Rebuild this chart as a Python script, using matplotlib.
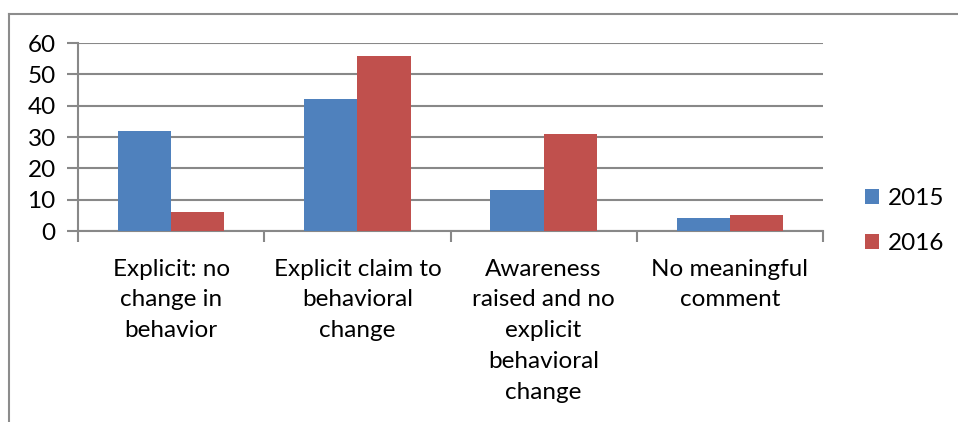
import matplotlib.pyplot as plt
import numpy as np
from matplotlib.lines import Line2D

# data
categories = ['Explicit: no\nchange in\nbehavior',
              'Explicit claim to\nbehavioral\nchange',
              'Awareness\nraised and no\nexplicit\nbehavioral\nchange',
              'No meaningful\ncomment']
years = ['2015', '2016']
vals_2015 = [32, 42, 13, 4]
vals_2016 = [6, 56, 31, 5]
colors = ['#4F81BD', '#C0504D']
grid_col = '#888888'
fs = 17.5

plt.rcParams['font.family'] = ['Lato', 'DejaVu Sans']

fig = plt.figure(figsize=(9.58, 4.22), dpi=100)
ax = fig.add_axes([78/958, 1 - 231/422, 745/958, 188/422])

x = np.arange(len(categories))
w = 1 / 3.5
ax.bar(x - w/2, vals_2015, w, color=colors[0], label=years[0], zorder=3)
ax.bar(x + w/2, vals_2016, w, color=colors[1], label=years[1], zorder=3)

ax.set_xlim(-0.5, len(categories) - 0.5)
ax.set_ylim(0, 60)
ax.set_yticks(range(0, 61, 10))
ax.yaxis.grid(True, color=grid_col, linewidth=1.5, zorder=0)

# tick marks at category boundaries, labels in the middle
ax.set_xticks(np.arange(-0.5, len(categories)), minor=False)
ax.set_xticklabels([''] * (len(categories) + 1))
ax.set_xticks(x, minor=True)
ax.set_xticklabels(categories, minor=True, fontsize=fs, linespacing=1.57)
ax.tick_params(axis='x', which='major', length=8, width=1.5, color=grid_col)
ax.tick_params(axis='x', which='minor', length=0, pad=20)
ax.tick_params(axis='y', length=8, width=1.5, color=grid_col, labelsize=fs, pad=8)

for s in ['top', 'right']:
    ax.spines[s].set_visible(False)
for s in ['left', 'bottom']:
    ax.spines[s].set_color(grid_col)
    ax.spines[s].set_linewidth(1.5)

ax.legend(loc='center left', bbox_to_anchor=(843/958, 1 - 221/422),
          bbox_transform=fig.transFigure, frameon=False, fontsize=fs,
          handlelength=0.6, handleheight=0.6, handletextpad=0.35,
          labelspacing=1.0)

# outer chart frame (only left and top edges visible)
fig.add_artist(Line2D([9/958, 9/958], [0, 1 - 14/422], color='#8c8c8c',
                      linewidth=1.5, transform=fig.transFigure))
fig.add_artist(Line2D([9/958, 1], [1 - 14/422, 1 - 14/422], color='#8c8c8c',
                      linewidth=1.5, transform=fig.transFigure))

fig.savefig('out.png', dpi=100)
